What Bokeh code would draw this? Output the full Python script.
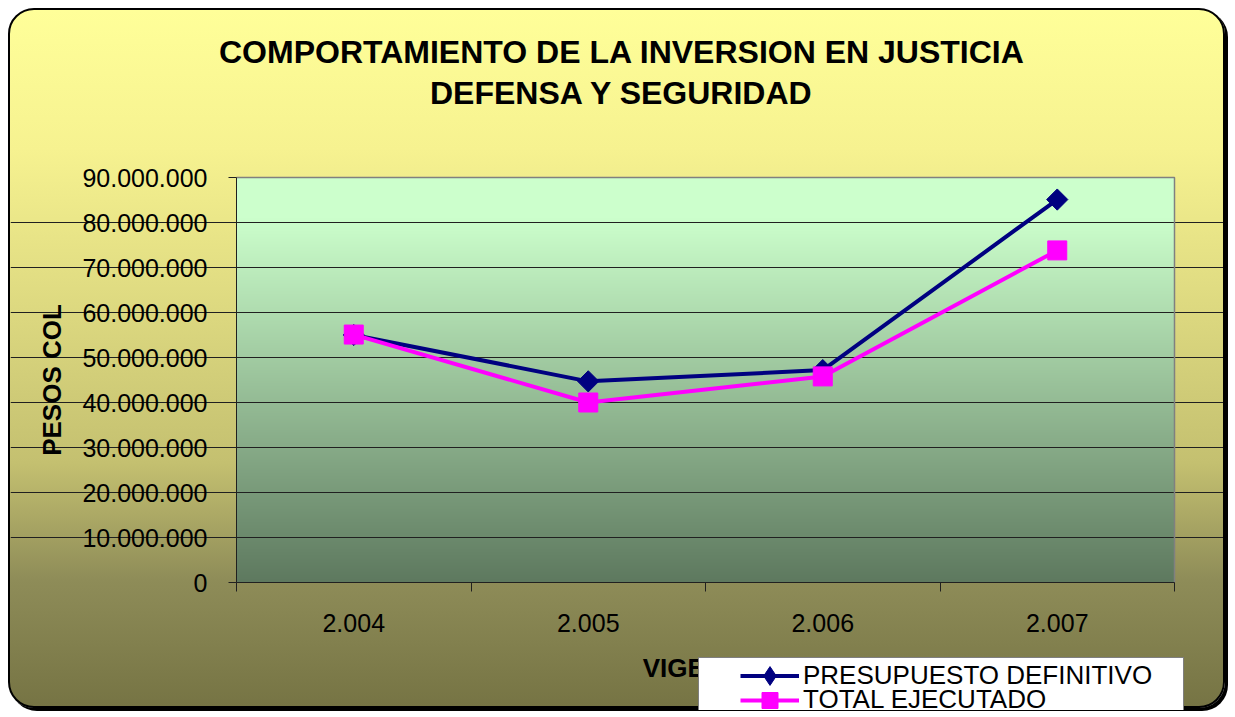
import numpy as np
from bokeh.plotting import figure
from bokeh.models import Range1d, FixedTicker, Legend, LegendItem, Label
from bokeh.embed import file_html
from bokeh.resources import INLINE

# ---------------- data ----------------
vigencia = ["2.004", "2.005", "2.006", "2.007"]
presupuesto_definitivo = [55.0e6, 44.7e6, 47.2e6, 85.1e6]
total_ejecutado = [55.1e6, 40.0e6, 45.8e6, 73.8e6]
series_names = ["PRESUPUESTO DEFINITIVO", "TOTAL EJECUTADO"]
y_tick_values = [0, 10000000, 20000000, 30000000, 40000000, 50000000,
                 60000000, 70000000, 80000000, 90000000]
y_tick_labels = ["0", "10.000.000", "20.000.000", "30.000.000", "40.000.000",
                 "50.000.000", "60.000.000", "70.000.000", "80.000.000", "90.000.000"]
title_lines = ["COMPORTAMIENTO DE LA INVERSION EN JUSTICIA", "DEFENSA Y SEGURIDAD"]
x_label = "VIGENCIA"
y_label = "PESOS COL"

FONT = "Liberation Sans"
n_cat = len(vigencia)
x_pos = np.arange(n_cat) + 0.5
y_max = y_tick_values[-1]

# ---------------- layout (canvas pixels) ----------------
W, H = 1217, 700
PA_L, PA_R, PA_T, PA_B = 226, 1164, 167, 572   # plot area inside the canvas
ux = n_cat / (PA_R - PA_L)          # data units per px (x)
uy = y_max / (PA_B - PA_T)          # data units per px (y)
x_rng = Range1d(-PA_L * ux, n_cat + (W - PA_R) * ux)
y_rng = Range1d(-(H - PA_B) * uy, y_max + PA_T * uy)

p = figure(width=W, height=H, output_backend="svg", toolbar_location=None,
           title=None, x_range=x_rng, y_range=y_rng,
           min_border=0, min_border_left=0, min_border_right=0,
           min_border_top=0, min_border_bottom=0)
p.border_fill_color = None
p.background_fill_color = None
p.outline_line_color = None
p.styles = {
    "margin-left": "8px",
    "margin-top": "8px",
    "background": "linear-gradient(to bottom, #FFFF99 0%, #F6F290 20%, #E0DC82 40%, "
                  "#C4C070 65%, #8E8C58 82%, #767444 100%)",
    "border": "2px solid #000000",
    "border-radius": "26px",
    "box-shadow": "3px 3px 0px 0px #000000",
}

# plot-area gradient (light green -> dark grey-green)
N = PA_B - PA_T
frac_top = 1.0 - (np.arange(N) + 0.5) / N
stops_t = [0.0, 0.1, 1.0]
stops_r = [204, 204, 94]
stops_g = [255, 255, 121]
stops_b = [204, 204, 95]
img = np.empty((N, 1), dtype=np.uint32)
view = img.view(dtype=np.uint8).reshape((N, 1, 4))
view[:, 0, 0] = np.interp(frac_top, stops_t, stops_r).astype(np.uint8)
view[:, 0, 1] = np.interp(frac_top, stops_t, stops_g).astype(np.uint8)
view[:, 0, 2] = np.interp(frac_top, stops_t, stops_b).astype(np.uint8)
view[:, 0, 3] = 255
p.image_rgba(image=[img], x=0, y=0, dw=n_cat, dh=y_max, level="image")

# grid
p.xgrid.visible = False
p.ygrid.ticker = FixedTicker(ticks=y_tick_values[1:-1])
p.ygrid.bounds = (0, n_cat)
p.ygrid.grid_line_color = "#202020"
p.ygrid.grid_line_width = 1

# plot-area outline (top and right, grey)
p.line(x=[0, n_cat, n_cat], y=[y_max, y_max, 0], line_color="#808080", line_width=1.5)

# axes (drawn at fixed locations inside the canvas)
p.yaxis.fixed_location = 0
p.yaxis.bounds = (0, y_max)
p.yaxis.ticker = FixedTicker(ticks=y_tick_values)
p.yaxis.major_label_overrides = {v: s for v, s in zip(y_tick_values, y_tick_labels)}
p.yaxis.axis_label = y_label
p.yaxis.major_tick_out = 8
p.yaxis.major_tick_in = 0
p.yaxis.major_label_standoff = 21
p.yaxis.axis_label_standoff = 12

p.xaxis.fixed_location = 0
p.xaxis.bounds = (0, n_cat)
p.xaxis.ticker = FixedTicker(ticks=list(x_pos), minor_ticks=list(range(n_cat + 1)))
p.xaxis.major_label_overrides = {float(v): s for v, s in zip(x_pos, vigencia)}
p.xaxis.axis_label = x_label
p.xaxis.major_tick_out = 0
p.xaxis.major_tick_in = 0
p.xaxis.minor_tick_out = 9
p.xaxis.minor_tick_in = 0
p.xaxis.major_label_standoff = 22
p.xaxis.axis_label_standoff = 18

for ax in (p.xaxis[0], p.yaxis[0]):
    ax.axis_line_color = "#202020"
    ax.major_tick_line_color = "#202020"
    ax.major_label_text_font = FONT
    ax.major_label_text_font_size = "25px"
    ax.major_label_text_color = "#000000"
    ax.axis_label_text_font = FONT
    ax.axis_label_text_font_size = "26px"
    ax.axis_label_text_font_style = "bold"
    ax.axis_label_text_color = "#000000"
p.xaxis.minor_tick_line_color = "#202020"
p.yaxis.minor_tick_line_color = None

# series
blue = "#000080"
pink = "#FF00FF"
blue_line = p.line(x_pos, presupuesto_definitivo, line_color=blue, line_width=4)
# diamond key (hidden under the rotated squares; used for the legend symbol)
blue_key = p.scatter(x_pos, presupuesto_definitivo, marker="diamond", size=12,
                     fill_color=blue, line_color=blue)
blue_pts = p.scatter(x_pos, presupuesto_definitivo, marker="square", angle=np.pi / 4,
                     size=15, fill_color=blue, line_color=blue)
pink_line = p.line(x_pos, total_ejecutado, line_color=pink, line_width=4)
pink_pts = p.scatter(x_pos, total_ejecutado, marker="square", size=19,
                     fill_color=pink, line_color=pink)

# titles (centred on the whole chart)
for txt, cy in zip(title_lines, [41, 82.5]):
    p.add_layout(Label(x=W / 2 + 3, y=H - cy, x_units="screen", y_units="screen",
                       text=txt, text_align="center", text_baseline="middle",
                       text_font=FONT, text_font_size="32px", text_font_style="bold",
                       text_color="#000000"))

# legend: white box + two item legends
dummy = p.scatter(x=[], y=[], fill_alpha=0, line_alpha=0)
legend_box = Legend(items=[LegendItem(label=" ", renderers=[dummy])],
                    location=(688, -9), padding=0, margin=0, spacing=0,
                    glyph_width=1, glyph_height=60, label_width=483, label_height=60,
                    label_standoff=0, label_text_font_size="1px",
                    background_fill_color="#FFFFFF", background_fill_alpha=1,
                    border_line_color="#000000", border_line_width=1)
legend_a = Legend(items=[LegendItem(label=series_names[0], renderers=[blue_line, blue_key])],
                  location=(730, 11), padding=0, margin=0, spacing=0,
                  glyph_width=59, glyph_height=47, label_height=47, label_standoff=4,
                  label_text_font=FONT, label_text_font_size="26px",
                  label_text_color="#000000",
                  background_fill_alpha=0, border_line_alpha=0)
legend_b = Legend(items=[LegendItem(label=series_names[1], renderers=[pink_line, pink_pts])],
                  location=(730, -9.5), padding=0, margin=0, spacing=0,
                  glyph_width=59, glyph_height=40, label_height=40, label_standoff=4,
                  label_text_font=FONT, label_text_font_size="26px",
                  label_text_color="#000000",
                  background_fill_alpha=0, border_line_alpha=0)
p.add_layout(legend_box, "center")
p.add_layout(legend_a, "center")
p.add_layout(legend_b, "center")

open("out.html", "w").write(file_html(p, INLINE))
